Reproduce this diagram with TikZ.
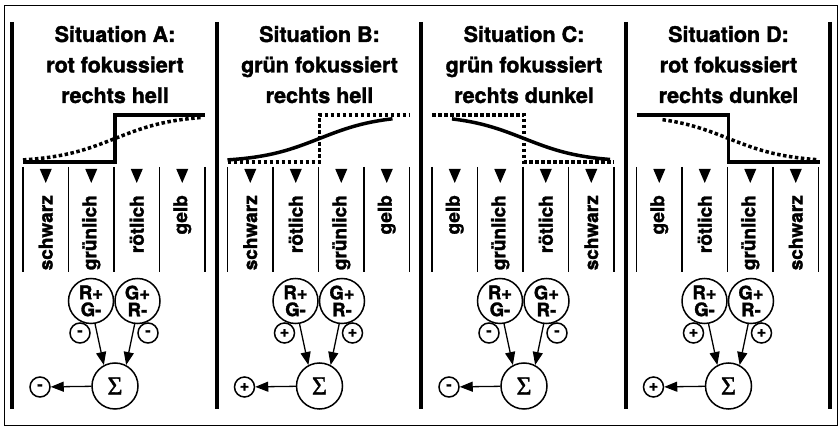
\documentclass[tikz,border=0pt]{standalone}
\usepackage{fontspec}
\setmainfont{TeX Gyre Heros}[BoldFeatures={FakeBold=1.6}]
\newfontfamily\sigmafont{Liberation Serif}[FakeBold=1.2]
\usetikzlibrary{arrows.meta}
\tikzset{
  thickbar/.style={line width=4pt},
  frame/.style={line width=0.8pt},
  coldiv/.style={line width=1.1pt},
  curveline/.style={line width=3.5pt},
  dotline/.style={line width=3.5pt, dash pattern=on 3.5pt off 2.5pt},
  titletext/.style={font=\bfseries\fontsize{21.5}{26}\selectfont, anchor=base, inner sep=0pt},
  collabel/.style={font=\bfseries\fontsize{19}{22}\selectfont, rotate=90, anchor=east, inner sep=0pt},
  cell/.style={circle, draw, line width=1.5pt, minimum size=45pt, inner sep=0pt, align=center, font=\bfseries\fontsize{18.5}{17}\selectfont},
  signc/.style={circle, draw, line width=1.5pt, minimum size=20pt, inner sep=0pt, font=\bfseries\fontsize{16}{16}\selectfont},
  sumc/.style={circle, draw, line width=1.5pt, minimum size=46pt, inner sep=0pt, font=\sigmafont\fontsize{26}{26}\selectfont},
  flow/.style={line width=1.3pt, -{Triangle[length=13pt,width=10pt]}},
}
% #1 left x, #2 id, #3 letter, #4 line 2, #5 line 3, #6 labels, #7 sign
\newcommand\situation[7]{%
  \node[titletext] (ta#2) at ({#1+103},42) {Situation #3:};
  \node[titletext] (tb#2) at ({#1+103},72.5) {#4};
  \node[titletext] (tc#2) at ({#1+103},103) {#5};
  \foreach \k in {0,...,4} {\draw[coldiv] ({#1+11+45.5*\k},167) -- ({#1+11+45.5*\k},272);}
  \foreach \lab [count=\i] in {#6} {%
    \fill ({#1+11+45.5*\i-22.75-6},169) -- ++(12,0) -- ++(-6,14) -- cycle;
    \node[collabel] (lab#2\i) at ({#1+11+45.5*\i-22.75},195) {\lab};
  }
  \node[cell] (rg#2) at ({#1+79},301) {R+\\G-};
  \node[cell] (gr#2) at ({#1+125.5},301) {G+\\R-};
  \node[signc] (sa#2) at ({#1+68},333) {#7};
  \node[signc] (sb#2) at ({#1+136},333) {#7};
  \node[sumc] (sum#2) at ({#1+103},386) {Σ};
  \node[signc] (out#2) at ({#1+28},387) {#7};
  \draw[flow] (rg#2.-80) -- (sum#2.118);
  \draw[flow] (gr#2.-97) -- (sum#2.62);
  \draw[flow] (sum#2) -- (out#2);
}
\begin{document}
\begin{tikzpicture}[x=1pt,y=-1pt]
\useasboundingbox (0,0) rectangle (839,427);
\fill[white] (0,0) rectangle (839,427);
\draw[frame] (4.5,5) rectangle (837,425.5);
\foreach \L in {12,216.5,421,625.5,830} {\draw[thickbar] (\L,22) -- (\L,409);}

\situation{12}{A}{A}{rot fokussiert}{rechts hell}{schwarz,grünlich,rötlich,gelb}{-}
\situation{216.5}{B}{B}{grün fokussiert}{rechts hell}{schwarz,rötlich,grünlich,gelb}{+}
\situation{421}{C}{C}{grün fokussiert}{rechts dunkel}{gelb,grünlich,rötlich,schwarz}{-}
\situation{625.5}{D}{D}{rot fokussiert}{rechts dunkel}{gelb,rötlich,grünlich,schwarz}{+}

% A: solid step up, dotted sigmoid
\draw[curveline] (23,162) -- (115,162) -- (115,115) -- (205,115);
\draw[dotline] plot[domain=-92:88, samples=60] ({115+\x},{162-47/(1+exp(-\x/30))});
% B: dotted step up, solid sigmoid
\draw[dotline] (227.5,162) -- (319.5,162) -- (319.5,115) -- (409.5,115);
\draw[curveline] plot[domain=-92:73, samples=60] ({319.5+\x},{162-47/(1+exp(-\x/30))});
% C: dotted step down, solid sigmoid down
\draw[dotline] (432,115) -- (524,115) -- (524,162) -- (614,162);
\draw[curveline] plot[domain=-72:86, samples=60] ({524+\x},{115+47/(1+exp(-\x/30))});
% D: solid step down, dotted sigmoid down
\draw[curveline] (636.5,115) -- (728.5,115) -- (728.5,162) -- (819.5,162);
\draw[dotline] plot[domain=-66:88, samples=60] ({728.5+\x},{115+47/(1+exp(-\x/30))});
\end{tikzpicture}
\end{document}
